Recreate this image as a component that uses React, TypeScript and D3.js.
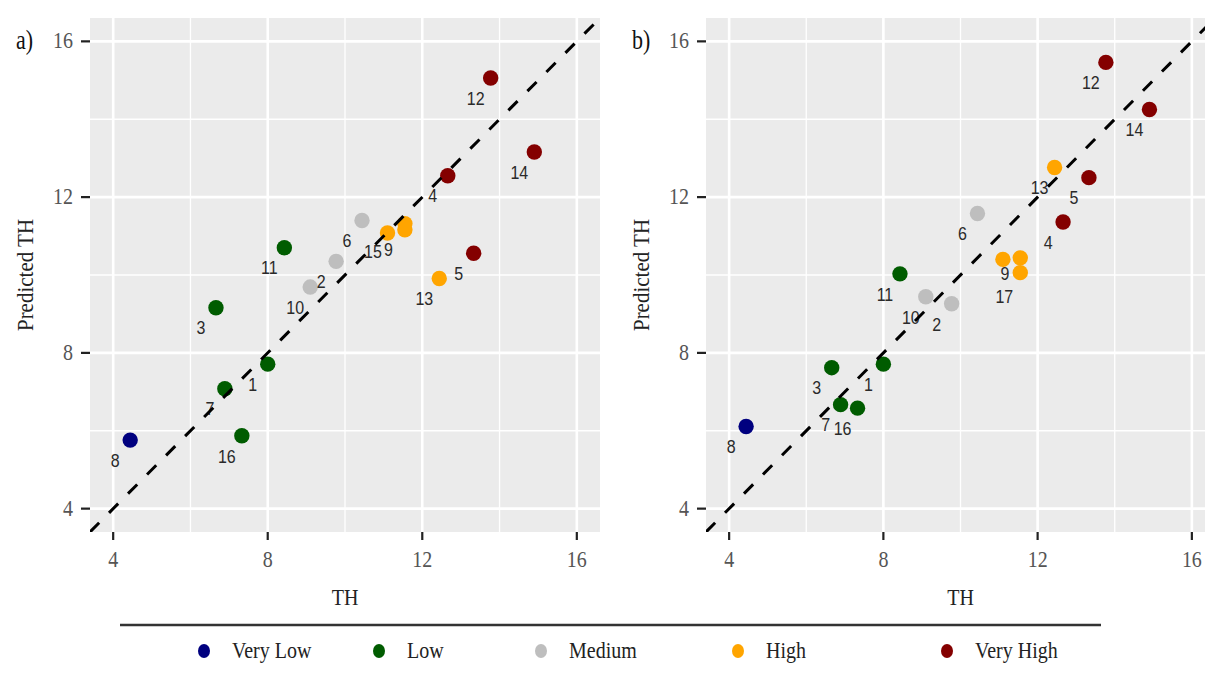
import React from "react";
import * as d3 from "d3";

// ---------- DATA ----------
const sampleIds = [1, 2, 3, 4, 5, 6, 7, 8, 9, 10, 11, 12, 13, 14, 15, 16, 17];
const sampleClass = [
  "Low", "Medium", "Low", "Very High", "Very High", "Medium", "Low", "Very Low", "High",
  "Medium", "Low", "Very High", "High", "Very High", "High", "Low", "High",
];
const observedTH = [8.0, 9.77, 6.66, 12.66, 13.33, 10.44, 6.89, 4.44, 11.1, 9.1, 8.43, 13.77, 12.44, 14.9, 11.55, 7.33, 11.55];
const predictedA = [7.71, 10.35, 9.16, 12.55, 10.56, 11.4, 7.08, 5.76, 11.08, 9.69, 10.7, 15.06, 9.91, 13.16, 11.32, 5.87, 11.16];
const predictedB = [7.71, 9.26, 7.62, 11.36, 12.5, 11.58, 6.67, 6.11, 10.4, 9.44, 10.03, 15.46, 12.76, 14.25, 10.44, 6.58, 10.06];
const hiddenLabelsA = [17];
const hiddenLabelsB = [15];

const classNames = ["Very Low", "Low", "Medium", "High", "Very High"];
const classColors = ["#00007F", "#005C00", "#BEBEBE", "#FFA500", "#840000"];
const axisTicks = [4, 8, 12, 16];
const minorTicks = [6, 10, 14];
const axisDomain = [3.4, 16.6];

// ---------- LAYOUT ----------
const W = 1205;
const H = 677;
const panelTop = 18;
const panelBottom = 532;
const panels = [
  { tag: "a)", left: 90, right: 600, pred: predictedA, hidden: hiddenLabelsA, offsets: { 9: [1, 17], 15: [-32, 29] } as Record<number, number[]> },
  { tag: "b)", left: 706, right: 1215, pred: predictedB, hidden: hiddenLabelsB, offsets: { 9: [2, 15], 17: [-16, 25] } as Record<number, number[]> },
];
const defaultOffset = [-15, 21];
const legendX = [204, 379, 541, 738, 947];
const serif = "'Liberation Serif', 'Times New Roman', serif";
const sans = "'Liberation Sans', Arial, sans-serif";
const STRETCH = 1.2;

const color = d3.scaleOrdinal<string, string>().domain(classNames).range(classColors);

function SText({ x, y, children, sy = STRETCH, ...rest }: any) {
  return (
    <text transform={`translate(${x},${y}) scale(1,${sy})`} {...rest}>
      {children}
    </text>
  );
}

function Panel({ p, idx }: { p: (typeof panels)[number]; idx: number }) {
  const x = d3.scaleLinear().domain(axisDomain).range([p.left, p.right]);
  const y = d3.scaleLinear().domain(axisDomain).range([panelBottom, panelTop]);
  const clipId = `clip-${idx}`;
  const pts = sampleIds.map((id, i) => ({ id, cls: sampleClass[i], xv: observedTH[i], yv: p.pred[i] }));
  const line = d3.line<number>().x((d) => x(d)).y((d) => y(d));
  return (
    <g>
      <defs>
        <clipPath id={clipId}>
          <rect x={p.left} y={panelTop} width={p.right - p.left} height={panelBottom - panelTop} />
        </clipPath>
      </defs>
      <rect x={p.left} y={panelTop} width={p.right - p.left} height={panelBottom - panelTop} fill="#EBEBEB" />
      <g clipPath={`url(#${clipId})`}>
        {minorTicks.map((t) => (
          <g key={"m" + t}>
            <line x1={x(t)} x2={x(t)} y1={panelTop} y2={panelBottom} stroke="#fff" strokeWidth={1.3} />
            <line x1={p.left} x2={p.right} y1={y(t)} y2={y(t)} stroke="#fff" strokeWidth={1.3} />
          </g>
        ))}
        {axisTicks.map((t) => (
          <g key={"M" + t}>
            <line x1={x(t)} x2={x(t)} y1={panelTop} y2={panelBottom} stroke="#fff" strokeWidth={2.6} />
            <line x1={p.left} x2={p.right} y1={y(t)} y2={y(t)} stroke="#fff" strokeWidth={2.6} />
          </g>
        ))}
        {pts.map((d) => (
          <circle key={"c" + d.id} cx={x(d.xv)} cy={y(d.yv)} r={7.7} fill={color(d.cls)} />
        ))}
        {pts
          .filter((d) => !p.hidden.includes(d.id))
          .map((d) => {
            const off = p.offsets[d.id] || defaultOffset;
            return (
              <SText
                key={"l" + d.id}
                x={x(d.xv) + off[0]}
                y={y(d.yv) + off[1]}
                sy={1.1}
                textAnchor="middle"
                dominantBaseline="central"
                fontFamily={sans}
                fontSize={16}
                fill="#2a2a2a"
              >
                {d.id}
              </SText>
            );
          })}
        <path d={line(axisDomain) || ""} stroke="#000" strokeWidth={3} strokeDasharray="13 14" fill="none" />
      </g>
      {axisTicks.map((t) => (
        <g key={"t" + t}>
          <line x1={x(t)} x2={x(t)} y1={panelBottom} y2={panelBottom + 8} stroke="#222" strokeWidth={2.2} />
          <SText x={x(t)} y={567} textAnchor="middle" fontFamily={serif} fontSize={20} fill="#555">
            {t}
          </SText>
          <line x1={p.left - 9} x2={p.left} y1={y(t)} y2={y(t)} stroke="#222" strokeWidth={2.2} />
          <SText x={p.left - 17} y={y(t) + 7} textAnchor="end" fontFamily={serif} fontSize={20} fill="#555">
            {t}
          </SText>
        </g>
      ))}
      <SText x={(p.left + p.right) / 2} y={605} textAnchor="middle" fontFamily={serif} fontSize={20} fill="#222">
        TH
      </SText>
      <text
        transform={`translate(${p.left - 57},${(panelTop + panelBottom) / 2}) rotate(-90) scale(1.05,1.2)`}
        textAnchor="middle"
        fontFamily={serif}
        fontSize={20}
        fill="#222"
      >
        Predicted TH
      </text>
      <SText x={p.left - 74} y={y(16) + 8} fontFamily={serif} fontSize={22} fill="#111">
        {p.tag}
      </SText>
    </g>
  );
}

export default function App() {
  return (
    <svg
      width={W}
      height={H}
      style={{ position: "absolute", left: 0, top: 0, background: "#fff" }}
      xmlns="http://www.w3.org/2000/svg"
    >
      <rect x={0} y={0} width={W} height={H} fill="#fff" />
      {panels.map((p, i) => (
        <Panel key={i} p={p} idx={i} />
      ))}
      <line x1={120} x2={1101} y1={625} y2={625} stroke="#333" strokeWidth={2.5} />
      {classNames.map((c, i) => (
        <g key={c}>
          <ellipse cx={legendX[i]} cy={651} rx={6} ry={7} fill={color(c)} />
          <SText x={legendX[i] + 28} y={658} fontFamily={serif} fontSize={20} fill="#222">
            {c}
          </SText>
        </g>
      ))}
    </svg>
  );
}
